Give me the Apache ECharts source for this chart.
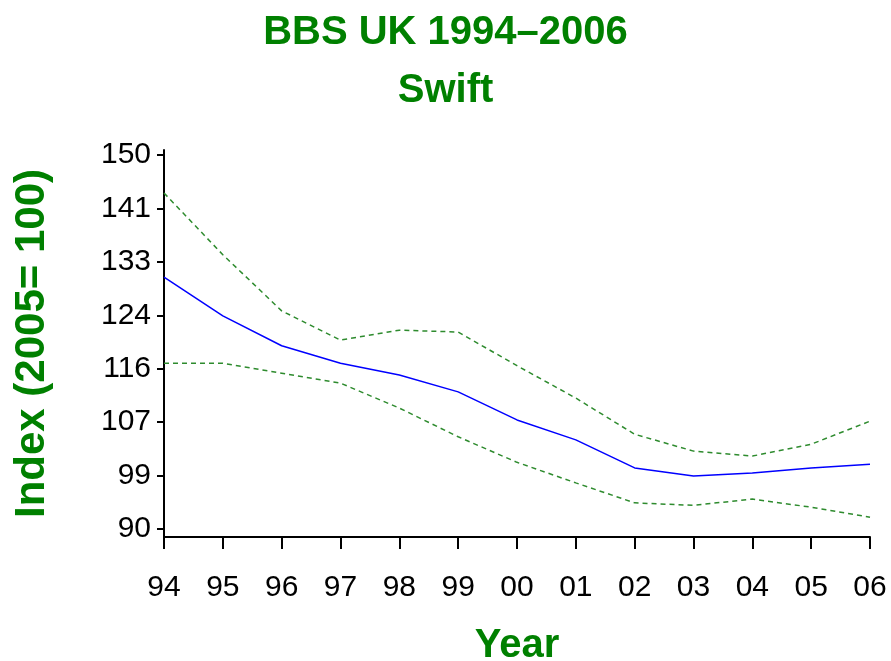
<!DOCTYPE html>
<html>
<head>
<meta charset="utf-8">
<script src="https://cdn.jsdelivr.net/npm/echarts@6/dist/echarts.min.js"></script>
<style>
html,body{margin:0;padding:0;background:#fff;}
#echart1{width:891px;height:661px;}
</style>
</head>
<body>
<div id="echart1"></div>
<script>
// years on the x axis
var years = ['94', '95', '96', '97', '98', '99', '00', '01', '02', '03', '04', '05', '06'];
// index values
var indexVals = [130.4, 124.2, 119.4, 116.6, 114.7, 112.0, 107.5, 104.3, 99.8, 98.5, 99.0, 99.8, 100.4];
var upperCI = [143.9, 134.0, 125.0, 120.3, 121.9, 121.6, 116.2, 111.0, 105.2, 102.5, 101.7, 103.6, 107.3];
var lowerCI = [116.6, 116.6, 115.0, 113.4, 109.4, 104.8, 100.7, 97.4, 94.2, 93.8, 94.8, 93.5, 91.9];
// y ticks (evenly spaced from 90 to 150, shown rounded)
var yTicks = [90, 98.571, 107.143, 115.714, 124.286, 132.857, 141.429, 150];

echarts_1();

function echarts_1() {
	var myChart = echarts.init(document.getElementById('echart1'));
	var green = '#008000';
	var font = 'Liberation Sans, Arial, sans-serif';
	var option = {
		animation: false,
		title: [{
			text: 'BBS UK 1994\u20132006',
			left: 'center',
			top: 8,
			textStyle: { color: green, fontSize: 40, fontWeight: 'bold', fontFamily: font }
		}, {
			text: 'Swift',
			left: 'center',
			top: 66,
			textStyle: { color: green, fontSize: 40, fontWeight: 'bold', fontFamily: font }
		}],
		grid: {
			left: 164,
			right: 21,
			top: 150,
			bottom: 124,
			containLabel: false,
			outerBoundsMode: 'none'
		},
		xAxis: [{
			type: 'category',
			boundaryGap: false,
			data: years,
			name: 'Year',
			nameLocation: 'middle',
			nameGap: 89,
			nameTextStyle: { color: green, fontSize: 40, fontWeight: 'bold', fontFamily: font },
			axisLine: { lineStyle: { color: '#000', width: 2 } },
			axisTick: { show: true, length: 12, lineStyle: { color: '#000', width: 2 } },
			axisLabel: { color: '#000', fontSize: 30, fontFamily: font, margin: 36 },
			splitLine: { show: false }
		}],
		yAxis: [{
			type: 'value',
			min: 88.72,
			max: 150.8,
			name: 'Index (2005= 100)',
			nameLocation: 'middle',
			nameGap: 111,
			nameTextStyle: { color: green, fontSize: 42, fontWeight: 'bold', fontFamily: font },
			axisLine: { show: true, lineStyle: { color: '#000', width: 2 } },
			axisTick: { show: true, length: 7, customValues: yTicks, lineStyle: { color: '#000', width: 2 } },
			axisLabel: {
				color: '#000', fontSize: 30, fontFamily: font, margin: 13,
				padding: [8, 0, 0, 0],
				customValues: yTicks,
				formatter: function (v) { return Math.round(v); }
			},
			splitLine: { show: false }
		}],
		series: [{
			name: 'Index',
			type: 'line',
			data: indexVals,
			symbol: 'none',
			lineStyle: { color: '#0000ff', width: 1.5 },
			z: 3
		}, {
			name: 'Upper',
			type: 'line',
			data: upperCI,
			symbol: 'none',
			lineStyle: { color: '#2e8b2e', width: 1.5, type: [5, 4] }
		}, {
			name: 'Lower',
			type: 'line',
			data: lowerCI,
			symbol: 'none',
			lineStyle: { color: '#2e8b2e', width: 1.5, type: [5, 4] }
		}]
	};
	myChart.setOption(option);
	window.addEventListener("resize", function () {
		myChart.resize();
	});
}
</script>
</body>
</html>
